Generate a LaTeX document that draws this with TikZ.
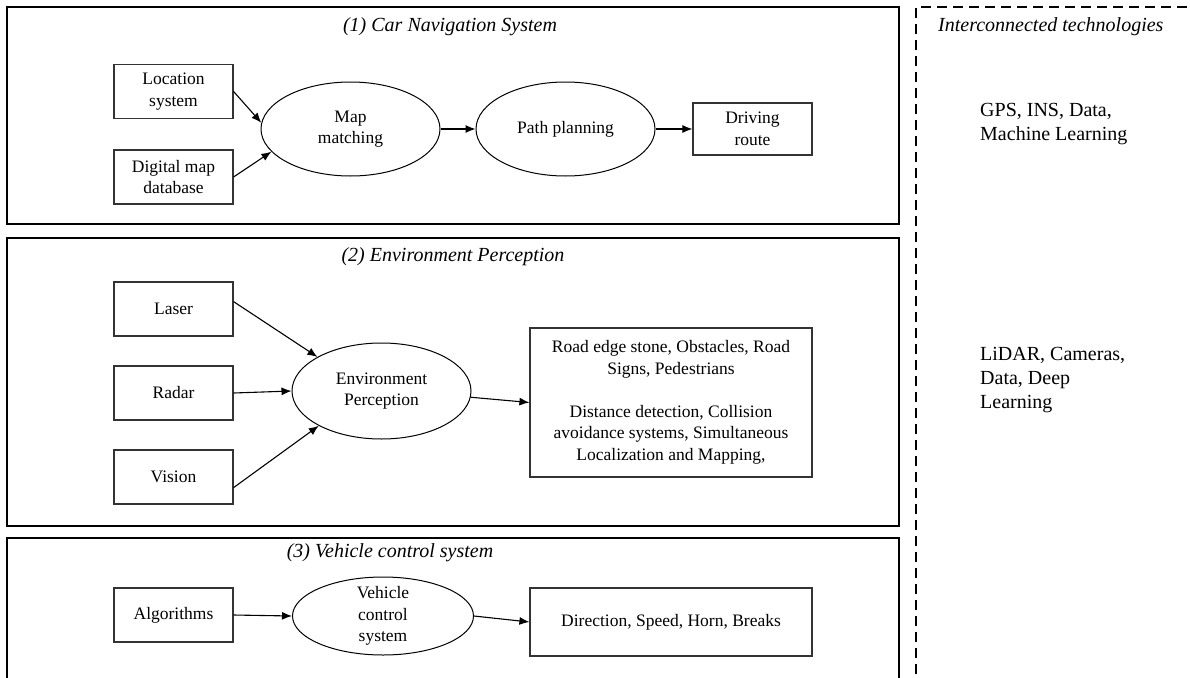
\documentclass[tikz,border=0pt]{standalone}
\usepackage{fontspec}
\setmainfont{Liberation Serif}
\usetikzlibrary{arrows.meta,shapes.geometric}
\newcommand\bxfont{\fontsize{17.5}{21.5}\selectfont}
\newcommand\ttlfont{\fontsize{20}{24}\selectfont\itshape}
\newcommand\sidefont{\fontsize{20}{24}\selectfont}
\begin{document}
\begin{tikzpicture}[x=1pt,y=-1pt,
  panel/.style={draw=black,line width=2.4pt},
  sep/.style={draw=black,line width=2pt,dash pattern=on 10pt off 6pt},
  boxnode/.style={draw=black!80,line width=1.2pt,rectangle,inner sep=0pt,
    align=center,font=\bxfont,minimum width=119pt,minimum height=54pt},
  ellnode/.style={draw=black,line width=1pt,ellipse,inner sep=0pt,
    align=center,font=\bxfont,minimum width=179pt,minimum height=94pt},
  ttl/.style={font=\ttlfont,inner sep=0pt},
  side/.style={font=\sidefont,align=left,inner sep=0pt},
  link/.style={draw=black,line width=1.1pt,-{Latex[length=10pt,width=8pt]}}]

\useasboundingbox (0,0) rectangle (1190,677);
\fill[white] (0,0) rectangle (1190,677);

% panel frames
\draw[panel] (7,7) rectangle (899,224);
\draw[panel] (7,238) rectangle (899,526);
\draw[panel] (7,690) -- (7,538) -- (899,538) -- (899,690);

% right-hand column frame
\draw[sep] (916,690) -- (916,7) -- (1195,7);

% (1) car navigation
\node[ttl] (t1) at (450,27) {(1) Car Navigation System};
\node[boxnode] (loc) at (173.5,91.5) {Location\\system};
\node[boxnode] (dig) at (173.5,177) {Digital map\\database};
\node[ellnode] (mapm) at (350.5,129) {Map\\matching};
\node[ellnode] (path) at (565.5,129) {Path planning};
\node[boxnode,minimum height=52pt] (drive) at (752.5,129) {Driving\\route};
\draw[link] (loc.east) -- (mapm.176);
\draw[link] (dig.east) -- (mapm.196);
\draw[link] (mapm.east) -- (path.west);
\draw[link] (path.east) -- (drive.west);

% (2) environment perception
\node[ttl] (t2) at (453,257) {(2) Environment Perception};
\node[boxnode] (laser) at (173.5,309) {Laser};
\node[boxnode] (radar) at (173.5,393) {Radar};
\node[boxnode] (vision) at (173.5,477) {Vision};
\node[ellnode,minimum height=96pt] (env) at (381.5,391) {Environment\\Perception};
\node[boxnode,minimum width=282pt,minimum height=149pt] (out) at (671,402.5)
  {Road edge stone, Obstacles, Road\\Signs, Pedestrians\\[21.5pt]
   Distance detection, Collision\\avoidance systems, Simultaneous\\Localization and Mapping,};
\draw[link] (laser.7) -- (env.152);
\draw[link] (radar.east) -- (env.west);
\draw[link] (vision.-10) -- (env.209);
\draw[link] (env.-4) -- (out.west);

% (3) vehicle control
\node[ttl] (t3) at (390,553) {(3) Vehicle control system};
\node[boxnode] (alg) at (173.5,615) {Algorithms};
\node[ellnode,minimum width=181pt,minimum height=78pt,inner ysep=-10pt] (veh) at (383,616)
  {Vehicle\\control\\system};
\node[boxnode,minimum width=282pt,minimum height=68pt] (dir) at (671,622)
  {Direction, Speed, Horn, Breaks};
\draw[link] (alg.east) -- (veh.west);
\draw[link] (veh.east) -- (dir.west);

% interconnected technologies
\node[ttl,anchor=west] (tech) at (938,27) {Interconnected technologies};
\node[side,anchor=west] (navtech) at (980,124) {GPS, INS, Data,\\Machine Learning};
\node[side,anchor=west] (envtech) at (980,380) {LiDAR, Cameras,\\Data, Deep\\Learning};
\end{tikzpicture}
\end{document}
